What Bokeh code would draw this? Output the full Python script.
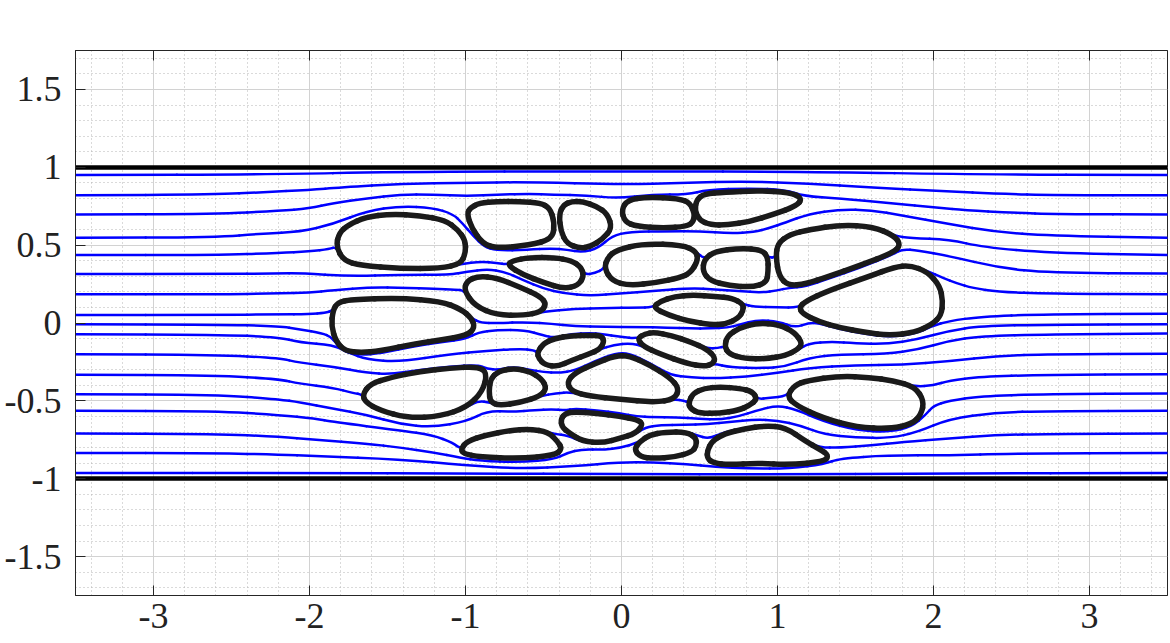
from bokeh.plotting import figure
from bokeh.models import Range1d, FixedTicker, LinearAxis, ColumnDataSource
from bokeh.embed import file_html
from bokeh.resources import INLINE
import numpy as np

# ---------------- axis / tick data ----------------
x_ticks = [-3, -2, -1, 0, 1, 2, 3]
x_tick_labels = ["-3", "-2", "-1", "0", "1", "2", "3"]
y_ticks = [-1.5, -1, -0.5, 0, 0.5, 1, 1.5]
y_tick_labels = ["-1.5", "-1", "-0.5", "0", "0.5", "1", "1.5"]
x_minor_step = 0.2
y_minor_step = 0.1
wall_y = [1.0, -1.0]

# ---------------- streamlines (x, y) ----------------
sl01 = [(-3.5, 0.95), (-2.2, 0.955), (-1.5, 0.97), (0.0, 0.975), (1.3, 0.97), (2.2, 0.955), (3.5, 0.95)]
sl02 = [(-3.5, 0.82), (-2.6, 0.825), (-2.3, 0.84), (-2.0, 0.855), (-1.8, 0.87), (-1.4, 0.895), (-1.0, 0.90),
        (-0.6, 0.905), (0.0, 0.89), (0.4, 0.90), (0.8, 0.91), (1.2, 0.895), (1.6, 0.87), (2.1, 0.845),
        (2.4, 0.83), (2.8, 0.822), (3.5, 0.82)]
sl03 = [(-3.5, 0.697), (-2.6, 0.70), (-2.2, 0.72), (-2.0, 0.735), (-1.85, 0.77), (-1.63, 0.80), (-1.42, 0.825),
        (-1.21, 0.825), (-0.99, 0.815), (-0.78, 0.825), (-0.59, 0.83), (-0.44, 0.825), (-0.22, 0.82),
        (-0.03, 0.80), (0.2, 0.825), (0.42, 0.825), (0.55, 0.855), (0.82, 0.865), (1.05, 0.855), (1.17, 0.815),
        (1.40, 0.80), (1.72, 0.77), (2.04, 0.74), (2.2, 0.725), (2.5, 0.708), (2.8, 0.70), (3.5, 0.697)]
sl04 = [(-3.5, 0.547), (-2.6, 0.55), (-2.3, 0.575), (-2.06, 0.585), (-1.85, 0.635), (-1.63, 0.72), (-1.42, 0.75),
        (-1.21, 0.74), (-1.08, 0.70), (-1.02, 0.64), (-0.95, 0.56), (-0.88, 0.49), (-0.8, 0.465), (-0.6, 0.47),
        (-0.45, 0.48), (-0.35, 0.47), (-0.25, 0.455), (-0.15, 0.48), (-0.06, 0.56), (0.05, 0.585), (0.3, 0.59),
        (0.5, 0.59), (0.7, 0.575), (0.85, 0.585), (0.95, 0.61), (1.05, 0.645), (1.2, 0.70), (1.4, 0.73),
        (1.6, 0.725), (1.8, 0.69), (2.1, 0.635), (2.4, 0.585), (2.74, 0.56), (3.5, 0.547)]
sl05 = [(-3.5, 0.436), (-2.6, 0.436), (-2.2, 0.45), (-2.0, 0.46), (-1.87, 0.475), (-1.83, 0.49), (-1.78, 0.40),
        (-1.67, 0.37), (-1.42, 0.35), (-1.16, 0.35), (-1.03, 0.38), (-0.9, 0.395), (-0.8, 0.385), (-0.73, 0.375),
        (-0.70, 0.40), (-0.59, 0.42), (-0.43, 0.42), (-0.32, 0.40), (-0.26, 0.36), (-0.24, 0.31), (-0.17, 0.32),
        (-0.11, 0.35), (-0.09, 0.42), (-0.03, 0.47), (0.14, 0.51), (0.39, 0.50), (0.48, 0.46), (0.53, 0.41),
        (0.60, 0.46), (0.76, 0.48), (0.90, 0.47), (0.94, 0.42), (0.99, 0.42), (1.00, 0.51), (1.08, 0.57),
        (1.21, 0.60), (1.40, 0.63), (1.61, 0.62), (1.75, 0.56), (1.85, 0.545), (2.1, 0.536), (2.32, 0.487),
        (2.74, 0.45), (3.5, 0.436)]
sl06 = [(-3.5, 0.314), (-2.6, 0.314), (-2.2, 0.318), (-2.06, 0.32), (-1.74, 0.30), (-1.42, 0.31), (-1.1, 0.31),
        (-0.99, 0.33), (-0.86, 0.345), (-0.75, 0.33), (-0.63, 0.275), (-0.5, 0.22), (-0.37, 0.19), (-0.2, 0.175),
        (0.0, 0.19), (0.2, 0.205), (0.45, 0.225), (0.6, 0.215), (0.75, 0.205), (0.9, 0.195), (1.0, 0.21),
        (1.07, 0.225), (1.18, 0.235), (1.33, 0.285), (1.53, 0.355), (1.74, 0.44), (1.8, 0.475), (1.9, 0.465),
        (2.1, 0.43), (2.42, 0.355), (2.74, 0.322), (3.5, 0.318)]
sl07 = [(-3.5, 0.184), (-2.6, 0.184), (-2.2, 0.19), (-2.0, 0.195), (-1.85, 0.21), (-1.6, 0.23), (-1.4, 0.225),
        (-1.2, 0.22), (-1.06, 0.215), (-1.01, 0.21), (-0.94, 0.11), (-0.80, 0.045), (-0.62, 0.045), (-0.5, 0.075),
        (-0.3, 0.09), (-0.1, 0.095), (0.1, 0.10), (0.2, 0.10), (0.25, 0.14), (0.34, 0.17), (0.46, 0.18),
        (0.60, 0.17), (0.71, 0.16), (0.78, 0.12), (0.85, 0.105), (1.0, 0.10), (1.14, 0.10), (1.18, 0.14),
        (1.33, 0.21), (1.59, 0.30), (1.75, 0.36), (1.85, 0.37), (1.96, 0.335), (2.06, 0.29), (2.15, 0.255),
        (2.25, 0.225), (2.42, 0.20), (2.74, 0.188), (3.5, 0.184)]
sl08 = [(-3.5, 0.051), (-2.6, 0.052), (-2.2, 0.055), (-2.0, 0.058), (-1.9, 0.065), (-1.85, 0.08), (-1.82, 0.13),
        (-1.74, 0.15), (-1.42, 0.16), (-1.16, 0.14), (-1.03, 0.09), (-0.96, 0.03), (-0.90, 0.0), (-0.8, 0.0),
        (-0.6, 0.005), (-0.45, -0.005), (-0.3, -0.02), (-0.1, -0.025), (0.1, -0.025), (0.3, -0.03),
        (0.44, -0.035), (0.57, -0.035), (0.68, -0.03), (0.76, -0.01), (0.87, 0.02), (1.01, 0.01), (1.11, -0.03),
        (1.2, 0.0), (1.26, 0.0), (1.40, -0.04), (1.56, -0.07), (1.72, -0.09), (1.88, -0.07), (1.99, -0.02),
        (2.1, 0.013), (2.3, 0.04), (2.7, 0.057), (3.5, 0.06)]
sl09 = [(-3.5, -0.008), (-2.6, -0.01), (-2.2, -0.02), (-2.06, -0.04), (-1.92, -0.065), (-1.86, -0.09),
        (-1.83, -0.13), (-1.77, -0.19), (-1.67, -0.205), (-1.55, -0.195), (-1.31, -0.145), (-1.16, -0.125),
        (-0.99, -0.10), (-0.92, -0.06), (-0.8, -0.045), (-0.62, -0.045), (-0.5, -0.08), (-0.43, -0.095),
        (-0.32, -0.07), (-0.2, -0.065), (-0.13, -0.07), (0.0, -0.09), (0.10, -0.10), (0.15, -0.07),
        (0.21, -0.06), (0.32, -0.08), (0.44, -0.12), (0.55, -0.165), (0.62, -0.16), (0.66, -0.15),
        (0.69, -0.20), (0.79, -0.235), (0.93, -0.235), (1.05, -0.215), (1.13, -0.175), (1.2, -0.13),
        (1.35, -0.12), (1.5, -0.13), (1.7, -0.135), (1.9, -0.105), (2.1, -0.05), (2.3, -0.02), (2.74, -0.01),
        (3.5, -0.008)]
sl10 = [(-3.5, -0.072), (-2.6, -0.075), (-2.2, -0.09), (-2.06, -0.126), (-1.85, -0.14), (-1.75, -0.19),
        (-1.63, -0.235), (-1.42, -0.25), (-1.1, -0.20), (-0.86, -0.18), (-0.65, -0.165), (-0.56, -0.175),
        (-0.54, -0.19), (-0.53, -0.235), (-0.49, -0.27), (-0.41, -0.28), (-0.32, -0.24), (-0.21, -0.20),
        (-0.14, -0.17), (-0.05, -0.14), (0.06, -0.13), (0.14, -0.15), (0.25, -0.20), (0.42, -0.26),
        (0.53, -0.28), (0.59, -0.26), (0.7, -0.285), (0.9, -0.29), (1.05, -0.28), (1.2, -0.225), (1.4, -0.20),
        (1.7, -0.20), (1.9, -0.17), (2.1, -0.115), (2.3, -0.085), (2.74, -0.072), (3.5, -0.068)]
sl11 = [(-3.5, -0.20), (-2.6, -0.205), (-2.2, -0.225), (-2.06, -0.255), (-1.85, -0.28), (-1.63, -0.32),
        (-1.48, -0.33), (-1.29, -0.30), (-1.1, -0.28), (-0.92, -0.27), (-0.86, -0.295), (-0.79, -0.30),
        (-0.69, -0.28), (-0.59, -0.30), (-0.5, -0.315), (-0.4, -0.32), (-0.30, -0.305), (-0.17, -0.245),
        (-0.04, -0.195), (0.05, -0.195), (0.18, -0.255), (0.31, -0.335), (0.45, -0.35), (0.6, -0.355),
        (0.8, -0.345), (1.0, -0.32), (1.2, -0.29), (1.5, -0.27), (1.8, -0.27), (2.1, -0.245), (2.42, -0.21),
        (2.74, -0.20), (3.5, -0.197)]
sl12 = [(-3.5, -0.333), (-2.6, -0.336), (-2.2, -0.36), (-2.06, -0.39), (-1.85, -0.415), (-1.72, -0.45),
        (-1.66, -0.46), (-1.64, -0.51), (-1.55, -0.56), (-1.37, -0.61), (-1.16, -0.60), (-0.99, -0.54),
        (-0.92, -0.50), (-0.84, -0.51), (-0.78, -0.53), (-0.65, -0.51), (-0.52, -0.47), (-0.42, -0.45),
        (-0.32, -0.445), (-0.20, -0.47), (-0.01, -0.49), (0.21, -0.51), (0.34, -0.49), (0.40, -0.50),
        (0.43, -0.51), (0.46, -0.45), (0.53, -0.42), (0.63, -0.41), (0.76, -0.42), (0.84, -0.44), (0.87, -0.49),
        (0.95, -0.48), (1.06, -0.47), (1.11, -0.40), (1.19, -0.37), (1.40, -0.34), (1.59, -0.35), (1.74, -0.37),
        (1.88, -0.41), (2.0, -0.40), (2.1, -0.37), (2.3, -0.345), (2.7, -0.333), (3.5, -0.329)]
sl13 = [(-3.5, -0.457), (-2.6, -0.46), (-2.2, -0.49), (-2.06, -0.51), (-1.85, -0.55), (-1.63, -0.59),
        (-1.42, -0.65), (-1.21, -0.67), (-0.99, -0.63), (-0.86, -0.565), (-0.7, -0.57), (-0.55, -0.56),
        (-0.45, -0.555), (-0.36, -0.56), (-0.30, -0.55), (-0.16, -0.56), (-0.01, -0.58), (0.10, -0.60),
        (0.2, -0.605), (0.35, -0.605), (0.5, -0.615), (0.63, -0.62), (0.75, -0.60), (0.87, -0.56), (1.0, -0.53),
        (1.12, -0.555), (1.29, -0.63), (1.51, -0.69), (1.72, -0.70), (1.86, -0.665), (1.95, -0.59), (2.0, -0.53),
        (2.1, -0.50), (2.3, -0.47), (2.7, -0.457), (3.5, -0.452)]
sl14 = [(-3.5, -0.564), (-2.6, -0.566), (-2.2, -0.59), (-1.96, -0.615), (-1.85, -0.635), (-1.42, -0.69),
        (-1.21, -0.72), (-1.08, -0.77), (-1.03, -0.81), (-0.99, -0.76), (-0.87, -0.72), (-0.71, -0.69),
        (-0.59, -0.68), (-0.47, -0.70), (-0.42, -0.715), (-0.35, -0.72), (-0.25, -0.765), (-0.12, -0.775),
        (-0.01, -0.745), (0.09, -0.715), (0.15, -0.67), (0.25, -0.655), (0.4, -0.655), (0.55, -0.65),
        (0.7, -0.635), (0.85, -0.62), (1.0, -0.625), (1.15, -0.66), (1.3, -0.715), (1.5, -0.735),
        (1.72, -0.74), (1.9, -0.70), (2.1, -0.615), (2.4, -0.575), (2.74, -0.566), (3.5, -0.564)]
sl15 = [(-3.5, -0.71), (-2.6, -0.712), (-2.2, -0.73), (-1.96, -0.75), (-1.63, -0.775), (-1.42, -0.80),
        (-1.21, -0.83), (-1.03, -0.865), (-0.91, -0.885), (-0.65, -0.895), (-0.43, -0.875), (-0.35, -0.835),
        (-0.25, -0.81), (-0.12, -0.815), (0.0, -0.80), (0.1, -0.77), (0.18, -0.72), (0.28, -0.70),
        (0.42, -0.70), (0.48, -0.72), (0.56, -0.745), (0.66, -0.70), (0.79, -0.675), (0.92, -0.655),
        (1.05, -0.665), (1.18, -0.755), (1.27, -0.80), (1.4, -0.80), (1.6, -0.785), (1.8, -0.765), (2.1, -0.74),
        (2.4, -0.72), (2.74, -0.712), (3.5, -0.71)]
sl16 = [(-3.5, -0.835), (-2.6, -0.836), (-2.2, -0.845), (-1.96, -0.855), (-1.42, -0.875), (-1.0, -0.915),
        (-0.65, -0.935), (-0.3, -0.92), (-0.01, -0.895), (0.2, -0.895), (0.42, -0.905), (0.6, -0.925),
        (0.82, -0.935), (1.08, -0.935), (1.3, -0.905), (1.4, -0.87), (1.7, -0.85), (2.1, -0.85), (2.5, -0.838),
        (3.5, -0.835)]
sl17 = [(-3.5, -0.963), (-2.0, -0.963), (-1.0, -0.967), (0.0, -0.97), (1.0, -0.972), (2.0, -0.966), (3.5, -0.963)]

# ---------------- vesicle outlines (closed, x, y) ----------------
ves_A = [(-1.83, 0.49), (-1.81, 0.58), (-1.75, 0.63), (-1.64, 0.68), (-1.48, 0.70), (-1.29, 0.69), (-1.13, 0.66),
         (-1.05, 0.60), (-1.00, 0.53), (-1.00, 0.45), (-1.03, 0.38), (-1.16, 0.35), (-1.42, 0.35), (-1.67, 0.37),
         (-1.78, 0.40)]
ves_B = [(-0.99, 0.70), (-0.97, 0.74), (-0.91, 0.77), (-0.80, 0.78), (-0.65, 0.78), (-0.52, 0.77), (-0.46, 0.74),
         (-0.43, 0.65), (-0.44, 0.54), (-0.59, 0.50), (-0.80, 0.48), (-0.89, 0.51), (-0.96, 0.61)]
ves_C = [(-0.40, 0.70), (-0.37, 0.76), (-0.32, 0.78), (-0.25, 0.78), (-0.16, 0.75), (-0.09, 0.70), (-0.06, 0.61),
         (-0.12, 0.54), (-0.20, 0.49), (-0.27, 0.48), (-0.35, 0.51), (-0.39, 0.59)]
ves_D = [(0.00, 0.73), (0.04, 0.79), (0.16, 0.81), (0.37, 0.80), (0.44, 0.77), (0.47, 0.70), (0.46, 0.65),
         (0.42, 0.62), (0.27, 0.61), (0.10, 0.62), (0.02, 0.65)]
ves_E = [(0.47, 0.72), (0.48, 0.79), (0.53, 0.83), (0.66, 0.84), (0.87, 0.85), (1.08, 0.84), (1.16, 0.80),
         (1.12, 0.75), (0.98, 0.70), (0.82, 0.65), (0.68, 0.63), (0.57, 0.63), (0.50, 0.66)]
ves_F = [(-0.73, 0.37), (-0.70, 0.40), (-0.59, 0.42), (-0.43, 0.42), (-0.32, 0.40), (-0.26, 0.36), (-0.24, 0.30),
         (-0.28, 0.24), (-0.37, 0.22), (-0.50, 0.26), (-0.63, 0.31)]
ves_G = [(-0.11, 0.35), (-0.09, 0.42), (-0.03, 0.47), (0.14, 0.51), (0.39, 0.50), (0.48, 0.46), (0.49, 0.40),
         (0.44, 0.32), (0.37, 0.29), (0.23, 0.26), (0.05, 0.24), (-0.06, 0.27)]
ves_H = [(0.52, 0.33), (0.53, 0.41), (0.60, 0.46), (0.76, 0.48), (0.90, 0.47), (0.94, 0.42), (0.94, 0.33),
         (0.93, 0.26), (0.84, 0.23), (0.69, 0.24), (0.57, 0.27)]
ves_I = [(0.99, 0.42), (1.00, 0.51), (1.08, 0.57), (1.21, 0.60), (1.40, 0.63), (1.61, 0.62), (1.75, 0.56),
         (1.79, 0.50), (1.74, 0.45), (1.53, 0.37), (1.33, 0.30), (1.18, 0.25), (1.07, 0.24), (1.01, 0.30)]
ves_J = [(-1.01, 0.21), (-0.99, 0.27), (-0.92, 0.30), (-0.80, 0.29), (-0.65, 0.23), (-0.52, 0.17), (-0.48, 0.12),
         (-0.52, 0.07), (-0.62, 0.05), (-0.80, 0.05), (-0.94, 0.11)]
ves_K = [(0.20, 0.10), (0.25, 0.14), (0.34, 0.17), (0.46, 0.18), (0.60, 0.17), (0.71, 0.16), (0.78, 0.12),
         (0.78, 0.08), (0.75, 0.03), (0.66, -0.01), (0.57, -0.01), (0.44, 0.01), (0.30, 0.05)]
ves_L = [(1.14, 0.10), (1.18, 0.14), (1.33, 0.21), (1.59, 0.30), (1.75, 0.36), (1.85, 0.37), (1.96, 0.33),
         (2.04, 0.24), (2.06, 0.14), (2.05, 0.05), (1.99, -0.01), (1.88, -0.06), (1.72, -0.08), (1.56, -0.06),
         (1.40, -0.03), (1.26, 0.01), (1.16, 0.06)]
ves_M = [(-1.85, 0.08), (-1.82, 0.13), (-1.74, 0.15), (-1.42, 0.16), (-1.16, 0.14), (-1.03, 0.09), (-0.96, 0.03),
         (-0.94, -0.03), (-0.99, -0.08), (-1.16, -0.11), (-1.31, -0.13), (-1.55, -0.18), (-1.67, -0.19),
         (-1.77, -0.18), (-1.83, -0.12), (-1.86, -0.02)]
ves_N = [(-0.54, -0.19), (-0.50, -0.13), (-0.43, -0.10), (-0.32, -0.08), (-0.20, -0.08), (-0.13, -0.08),
         (-0.11, -0.12), (-0.14, -0.17), (-0.21, -0.20), (-0.32, -0.24), (-0.41, -0.28), (-0.49, -0.27),
         (-0.53, -0.23)]
ves_O = [(0.10, -0.10), (0.15, -0.07), (0.21, -0.06), (0.32, -0.08), (0.44, -0.12), (0.55, -0.17), (0.60, -0.22),
         (0.59, -0.26), (0.53, -0.28), (0.42, -0.26), (0.25, -0.20), (0.14, -0.15)]
ves_P = [(0.66, -0.15), (0.68, -0.08), (0.76, -0.03), (0.87, 0.00), (1.01, -0.01), (1.11, -0.06), (1.16, -0.13),
         (1.13, -0.17), (1.05, -0.21), (0.93, -0.23), (0.79, -0.23), (0.69, -0.20)]
ves_Q = [(-1.66, -0.46), (-1.61, -0.39), (-1.48, -0.35), (-1.29, -0.31), (-1.10, -0.29), (-0.92, -0.28),
         (-0.86, -0.32), (-0.89, -0.44), (-0.99, -0.54), (-1.16, -0.60), (-1.37, -0.61), (-1.55, -0.56),
         (-1.64, -0.51)]
ves_R = [(-0.85, -0.44), (-0.84, -0.36), (-0.79, -0.31), (-0.69, -0.29), (-0.59, -0.31), (-0.51, -0.36),
         (-0.48, -0.42), (-0.52, -0.47), (-0.65, -0.51), (-0.78, -0.53), (-0.84, -0.51)]
ves_S = [(-0.35, -0.38), (-0.30, -0.32), (-0.17, -0.26), (-0.04, -0.21), (0.05, -0.21), (0.18, -0.27),
         (0.31, -0.35), (0.37, -0.42), (0.34, -0.49), (0.21, -0.51), (-0.01, -0.49), (-0.20, -0.47),
         (-0.32, -0.44)]
ves_T = [(0.43, -0.51), (0.46, -0.45), (0.53, -0.42), (0.63, -0.41), (0.76, -0.42), (0.84, -0.44), (0.87, -0.49),
         (0.82, -0.53), (0.75, -0.56), (0.63, -0.58), (0.50, -0.58), (0.44, -0.55)]
ves_U = [(1.06, -0.47), (1.11, -0.40), (1.19, -0.37), (1.40, -0.34), (1.59, -0.35), (1.74, -0.37), (1.88, -0.41),
         (1.94, -0.50), (1.92, -0.59), (1.86, -0.65), (1.72, -0.68), (1.51, -0.67), (1.29, -0.61), (1.12, -0.53)]
ves_V = [(-1.03, -0.81), (-0.99, -0.76), (-0.87, -0.72), (-0.71, -0.69), (-0.59, -0.68), (-0.47, -0.70),
         (-0.41, -0.76), (-0.38, -0.81), (-0.43, -0.85), (-0.65, -0.87), (-0.91, -0.86), (-1.01, -0.84)]
ves_W = [(-0.39, -0.62), (-0.36, -0.58), (-0.30, -0.57), (-0.16, -0.58), (-0.01, -0.60), (0.10, -0.62),
         (0.14, -0.65), (0.09, -0.71), (-0.01, -0.74), (-0.12, -0.77), (-0.25, -0.76), (-0.33, -0.71),
         (-0.38, -0.67)]
ves_X = [(0.08, -0.81), (0.12, -0.76), (0.18, -0.72), (0.28, -0.70), (0.42, -0.70), (0.48, -0.74), (0.48, -0.79),
         (0.45, -0.83), (0.34, -0.86), (0.21, -0.87), (0.12, -0.86)]
ves_Y = [(0.55, -0.82), (0.58, -0.76), (0.66, -0.71), (0.79, -0.68), (0.92, -0.66), (1.05, -0.67), (1.18, -0.76),
         (1.27, -0.81), (1.33, -0.85), (1.30, -0.89), (1.08, -0.91), (0.87, -0.90), (0.69, -0.91), (0.59, -0.90),
         (0.55, -0.87)]

streamlines = [sl01, sl02, sl03, sl04, sl05, sl06, sl07, sl08, sl09, sl10, sl11, sl12, sl13, sl14, sl15, sl16, sl17]
vesicles = [ves_A, ves_B, ves_C, ves_D, ves_E, ves_F, ves_G, ves_H, ves_I, ves_J, ves_K, ves_L, ves_M,
            ves_N, ves_O, ves_P, ves_Q, ves_R, ves_S, ves_T, ves_U, ves_V, ves_W, ves_X, ves_Y]


# ---------------- smooth drawing helpers (quadratic B-spline through midpoints) ----------------
def new_q():
    return dict(x0=[], y0=[], x1=[], y1=[], cx=[], cy=[])


def new_s():
    return dict(x0=[], y0=[], x1=[], y1=[])


def mid(a, b):
    return ((a[0] + b[0]) / 2.0, (a[1] + b[1]) / 2.0)


def add_q(q, a, b, c):
    q["x0"].append(a[0]); q["y0"].append(a[1])
    q["x1"].append(b[0]); q["y1"].append(b[1])
    q["cx"].append(c[0]); q["cy"].append(c[1])


def add_s(s, a, b):
    s["x0"].append(a[0]); s["y0"].append(a[1])
    s["x1"].append(b[0]); s["y1"].append(b[1])


def open_curve(pts, q, s):
    n = len(pts)
    mids = [mid(pts[i], pts[i + 1]) for i in range(n - 1)]
    add_s(s, pts[0], mids[0])
    for i in range(1, n - 1):
        add_q(q, mids[i - 1], mids[i], pts[i])
    add_s(s, mids[-1], pts[-1])


def closed_curve(pts, q):
    n = len(pts)
    for i in range(n):
        a, b, c = pts[i - 1], pts[i], pts[(i + 1) % n]
        add_q(q, mid(a, b), mid(b, c), b)


sq, ss = new_q(), new_s()
for line in streamlines:
    open_curve(line, sq, ss)
vq = new_q()
for v in vesicles:
    closed_curve(v, vq)

# ---------------- figure ----------------
FONT = "Liberation Serif"
AX = "#262626"
p = figure(width=1170, height=643, x_range=Range1d(-3.5, 3.5), y_range=Range1d(-1.75, 1.75),
           output_backend="svg", toolbar_location=None,
           min_border_left=75, min_border_right=3, min_border_top=50, min_border_bottom=48)
p.background_fill_color = "white"
p.border_fill_color = "white"
p.outline_line_color = AX
p.outline_line_width = 1

x_minor = [round(v, 2) for v in np.arange(-3.4, 3.41, x_minor_step)]
y_minor = [round(v, 2) for v in np.arange(-1.7, 1.71, y_minor_step)]

xax = p.below[0]
yax = p.left[0]
xax.ticker = FixedTicker(ticks=x_ticks, minor_ticks=x_minor)
yax.ticker = FixedTicker(ticks=y_ticks, minor_ticks=y_minor)
xax.major_label_overrides = {t: l for t, l in zip(x_ticks, x_tick_labels)}
yax.major_label_overrides = {t: l for t, l in zip(y_ticks, y_tick_labels)}
for ax in (xax, yax):
    ax.major_label_text_font = FONT
    ax.major_label_text_font_size = "36px"
    ax.major_label_text_color = "#222222"
    ax.major_tick_in = 10
    ax.major_tick_out = 0
    ax.minor_tick_line_color = None
    ax.major_tick_line_color = AX
    ax.axis_line_color = AX
xax.major_label_standoff = 4
yax.major_label_standoff = 10

top_axis = LinearAxis(ticker=FixedTicker(ticks=x_ticks), major_label_text_font_size="0px",
                      major_label_overrides={t: "" for t in x_ticks}, major_label_standoff=0,
                      major_tick_in=10, major_tick_out=0, minor_tick_line_color=None,
                      major_tick_line_color=AX, axis_line_color=AX)
p.add_layout(top_axis, "above")

p.xgrid.ticker = FixedTicker(ticks=x_ticks, minor_ticks=x_minor)
p.ygrid.ticker = FixedTicker(ticks=y_ticks, minor_ticks=y_minor)
for g in (p.xgrid, p.ygrid):
    g.grid_line_color = "#d2d2d2"
    g.grid_line_width = 1
    g.minor_grid_line_color = "#b4b4b4"
    g.minor_grid_line_width = 1
    g.minor_grid_line_dash = "1 3"

# streamlines
BLUE = "#0000ff"
p.quadratic(x0="x0", y0="y0", x1="x1", y1="y1", cx="cx", cy="cy", source=ColumnDataSource(sq),
            line_color=BLUE, line_width=2.5, line_cap="round")
p.segment(x0="x0", y0="y0", x1="x1", y1="y1", source=ColumnDataSource(ss),
          line_color=BLUE, line_width=2.5, line_cap="round")

# vesicles
p.quadratic(x0="x0", y0="y0", x1="x1", y1="y1", cx="cx", cy="cy", source=ColumnDataSource(vq),
            line_color="#1a1a1a", line_width=5.5, line_cap="round")

# channel walls
p.hspan(y=wall_y, line_color="black", line_width=4.5)

open("out.html", "w").write(file_html(p, INLINE))
